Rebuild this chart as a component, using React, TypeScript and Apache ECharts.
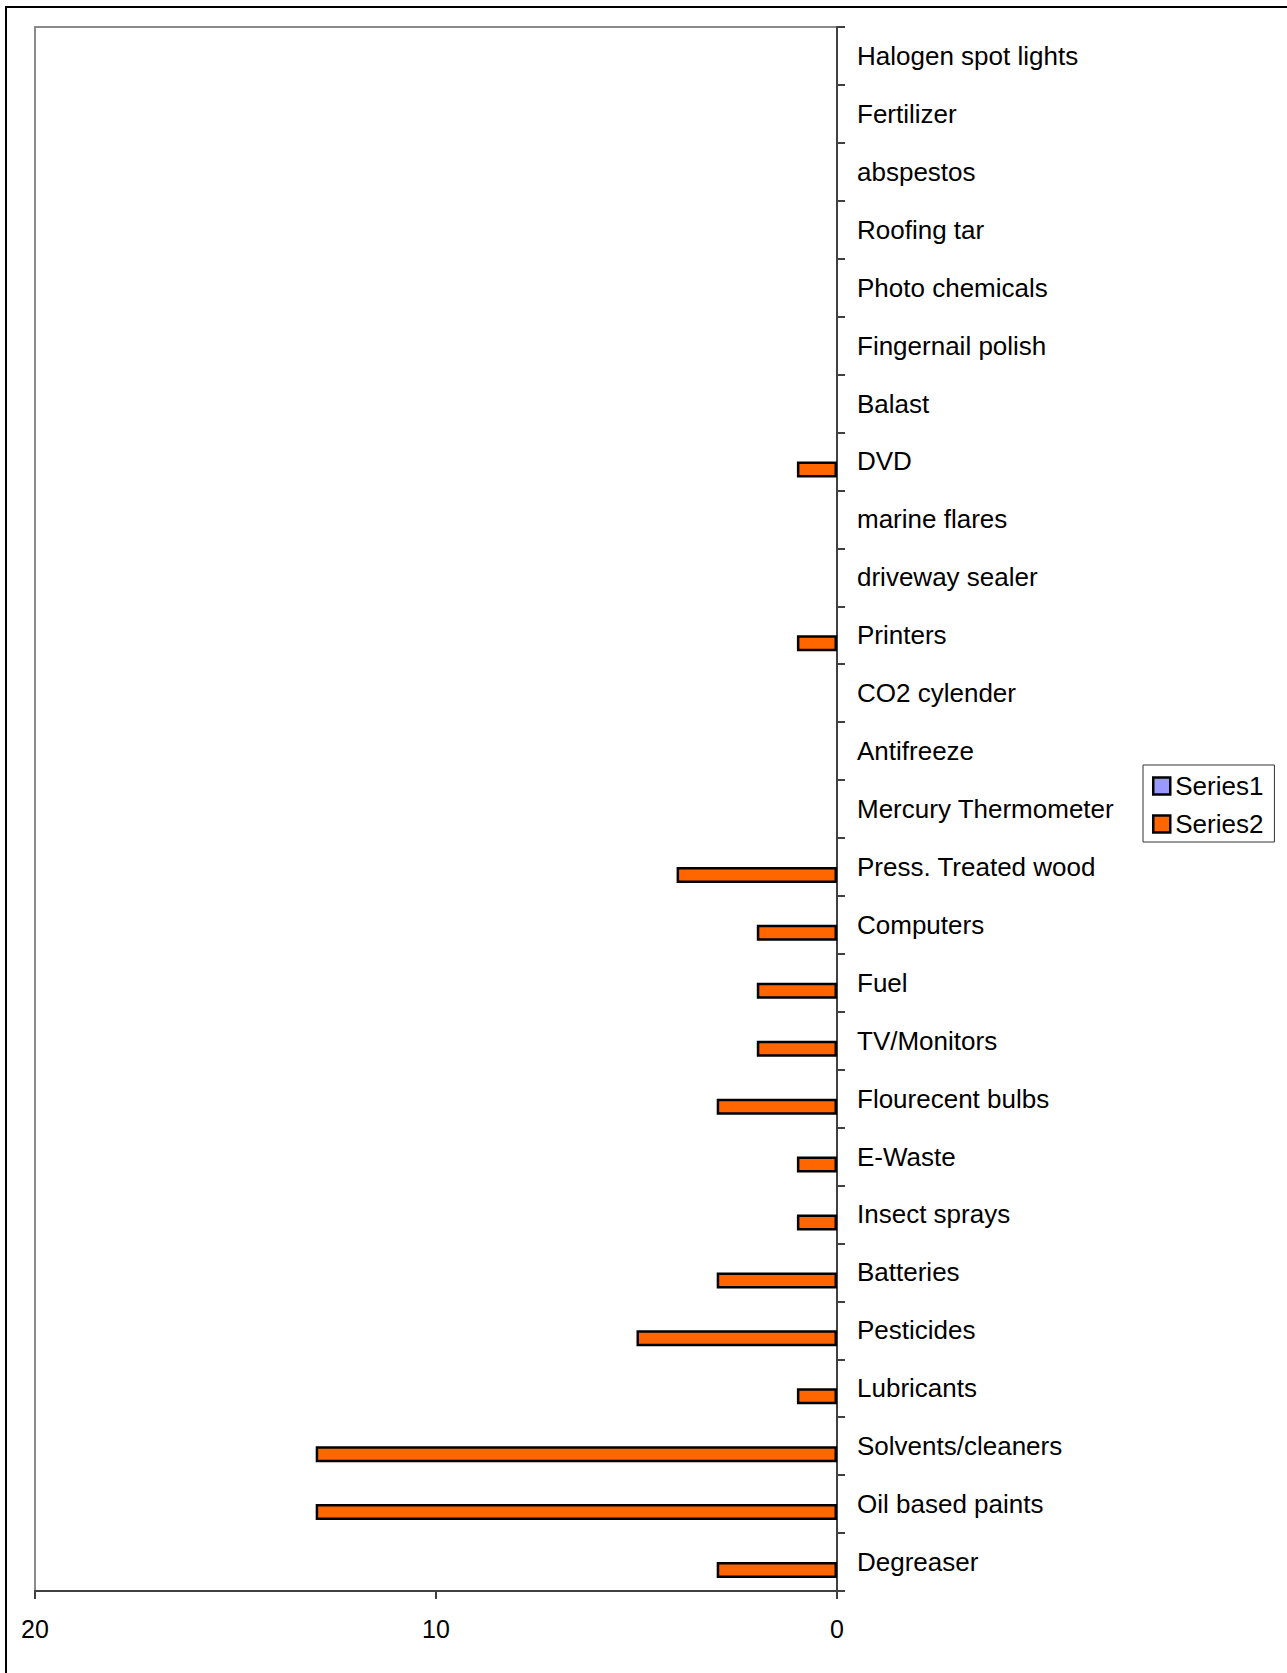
import React, { useEffect, useRef } from "react";
import * as echarts from "echarts";

const categories = [
  "Halogen spot lights",
  "Fertilizer",
  "abspestos",
  "Roofing tar",
  "Photo chemicals",
  "Fingernail polish",
  "Balast",
  "DVD",
  "marine flares",
  "driveway sealer",
  "Printers",
  "CO2 cylender",
  "Antifreeze",
  "Mercury Thermometer",
  "Press. Treated wood",
  "Computers",
  "Fuel",
  "TV/Monitors",
  "Flourecent bulbs",
  "E-Waste",
  "Insect sprays",
  "Batteries",
  "Pesticides",
  "Lubricants",
  "Solvents/cleaners",
  "Oil based paints",
  "Degreaser",
];

const series1 = [0, 0, 0, 0, 0, 0, 0, 0, 0, 0, 0, 0, 0, 0, 0, 0, 0, 0, 0, 0, 0, 0, 0, 0, 0, 0, 0];
const series2 = [0, 0, 0, 0, 0, 0, 0, 1, 0, 0, 1, 0, 0, 0, 4, 2, 2, 2, 3, 1, 1, 3, 5, 1, 13, 13, 3];

const xTicks = { min: 0, max: 20, interval: 10 };

const FONT = "'Liberation Sans', Arial, sans-serif";

// zero-length bars are drawn as nothing (no stray border marks on the axis)
const nonZero = (arr: number[]) => arr.map((v) => (v === 0 ? null : v));

export default function App() {
  const ref = useRef<HTMLDivElement>(null);
  useEffect(() => {
    document.body.style.margin = "0";
    document.body.style.overflow = "hidden";
    const chart = echarts.init(ref.current!, null, { renderer: "svg" });
    chart.setOption({
      animation: false,
      backgroundColor: "#ffffff",
      textStyle: { fontFamily: FONT, color: "#000" },
      graphic: [
        {
          type: "rect",
          shape: { x: 6, y: 7, width: 1400, height: 1800 },
          style: { fill: "none", stroke: "#000", lineWidth: 2 },
          silent: true,
        },
      ],
      grid: {
        left: 35,
        top: 27,
        right: 450,
        bottom: 82,
        show: true,
        borderColor: "#8a8a8a",
        borderWidth: 2,
        containLabel: false,
      },
      legend: {
        orient: "vertical",
        left: 1143,
        top: 765,
        padding: [8, 11, 5, 9],
        itemWidth: 17,
        itemHeight: 17,
        itemGap: 12,
        borderColor: "#333",
        borderWidth: 1,
        icon: "rect",
        textStyle: { fontSize: 26, fontFamily: FONT, color: "#000" },
        data: [
          { name: "Series1", itemStyle: { color: "#9999FF", borderColor: "#000", borderWidth: 2.5 } },
          { name: "Series2", itemStyle: { color: "#FF6600", borderColor: "#000", borderWidth: 2.5 } },
        ],
      },
      xAxis: {
        type: "value",
        inverse: true,
        min: xTicks.min,
        max: xTicks.max,
        interval: xTicks.interval,
        splitLine: { show: false },
        axisLine: { show: true, lineStyle: { color: "#404040", width: 2 } },
        axisTick: { show: true, length: 8, lineStyle: { color: "#404040", width: 2 } },
        axisLabel: { fontSize: 25, color: "#000", fontFamily: FONT, margin: 25 },
      },
      yAxis: {
        type: "category",
        position: "right",
        inverse: true,
        data: categories,
        axisLine: { show: true, lineStyle: { color: "#404040", width: 2 } },
        axisTick: { show: true, length: 8, lineStyle: { color: "#404040", width: 2 } },
        axisLabel: { fontSize: 26, color: "#000", fontFamily: FONT, margin: 20, align: "left" },
        splitLine: { show: false },
      },
      series: [
        {
          name: "Series1",
          type: "bar",
          data: nonZero(series1),
          barWidth: 16,
          barGap: "0%",
          itemStyle: { color: "#9999FF", borderColor: "#000", borderWidth: 2.5 },
        },
        {
          name: "Series2",
          type: "bar",
          data: nonZero(series2),
          barWidth: 16,
          barGap: "0%",
          itemStyle: { color: "#FF6600", borderColor: "#000", borderWidth: 2.5 },
        },
      ],
    });
    return () => chart.dispose();
  }, []);
  return <div ref={ref} style={{ width: 1287, height: 1673 }} />;
}
